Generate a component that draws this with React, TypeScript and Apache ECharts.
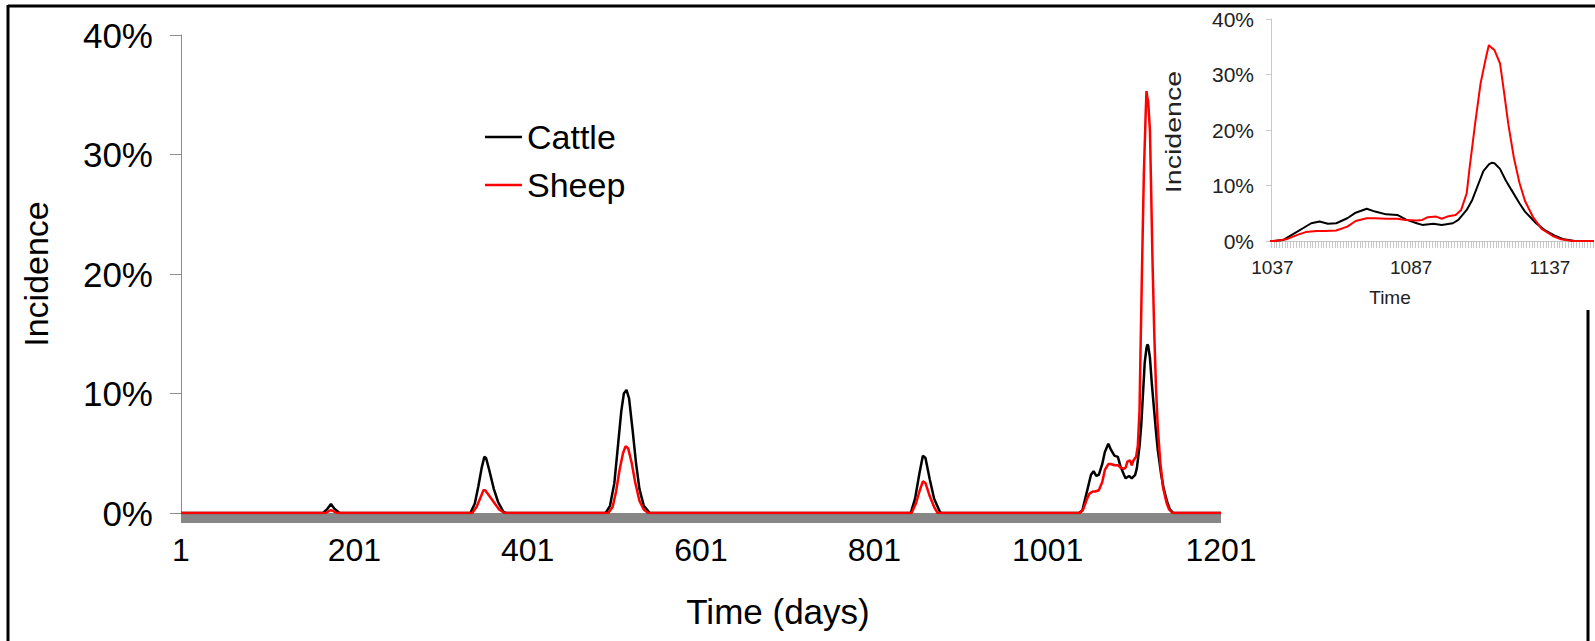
import React, { useEffect, useRef } from "react";
import * as echarts from "echarts";

// Daily incidence (%) of the two host species, as [day, percent] points.
const cattle: [number, number][] = [
  [1, 0], [165, 0], [170, 0.35], [174, 0.75], [178, 0.35], [184, 0],
  [335, 0], [340, 0.8], [344, 2.2], [348, 3.8], [351, 4.7], [353, 4.6], [357, 3.5], [362, 2.0], [367, 0.9], [373, 0.1], [376, 0],
  [491, 0], [496, 0.6], [501, 2.5], [505, 5.5], [509, 8.5], [512, 10.0], [515, 10.3], [518, 9.6], [522, 7.0], [526, 4.2], [530, 2.0], [535, 0.6], [542, 0],
  [843, 0], [848, 1.2], [853, 3.3], [857, 4.8], [860, 4.6], [865, 2.8], [870, 1.2], [876, 0.2], [878, 0],
  [1037, 0], [1041, 0.2], [1044, 1.1], [1048, 2.3], [1051, 3.2], [1054, 3.5], [1057, 3.1], [1060, 3.2], [1064, 4.1], [1067, 5.1],
  [1071, 5.8], [1074, 5.3], [1078, 4.8], [1082, 4.7], [1085, 3.9], [1089, 3.2], [1091, 2.9], [1095, 3.1], [1098, 2.9], [1102, 3.2],
  [1104, 3.8], [1107, 5.6], [1109, 7.4], [1111, 10.0], [1113, 12.6], [1115, 13.8], [1116, 14.1], [1117, 14.0], [1119, 13.0],
  [1121, 11.0], [1123, 9.3], [1126, 6.8], [1128, 5.3], [1132, 3.2], [1135, 2.0], [1139, 0.9], [1142, 0.3], [1146, 0],
  [1201, 0],
];

const sheep: [number, number][] = [
  [1, 0], [168, 0], [174, 0.25], [181, 0],
  [337, 0], [342, 0.5], [346, 1.2], [350, 1.9], [352, 1.9], [356, 1.5], [362, 0.9], [368, 0.3], [374, 0],
  [494, 0], [499, 0.5], [503, 1.8], [507, 3.6], [511, 5.0], [514, 5.6], [517, 5.4], [521, 4.2], [525, 2.6], [530, 1.0], [535, 0.3], [540, 0],
  [844, 0], [849, 0.8], [853, 1.8], [857, 2.65], [860, 2.5], [865, 1.4], [870, 0.5], [874, 0],
  [1038, 0], [1042, 0.3], [1046, 1.1], [1049, 1.6], [1053, 1.8], [1056, 1.8], [1060, 1.9], [1064, 2.6], [1067, 3.6], [1071, 4.1],
  [1074, 4.1], [1078, 4.0], [1082, 4.0], [1085, 3.8], [1089, 3.7], [1091, 3.8], [1093, 4.3], [1096, 4.4], [1098, 4.0], [1100, 4.4],
  [1103, 4.7], [1105, 5.6], [1107, 8.6], [1108, 13.0], [1110, 21.0], [1112, 28.4], [1114, 33.2], [1115, 35.3], [1116, 34.8],
  [1117, 34.4], [1119, 32.0], [1120, 28.5], [1122, 21.0], [1124, 15.0], [1126, 10.5], [1128, 7.2], [1131, 4.2], [1134, 2.2],
  [1138, 0.9], [1141, 0.3], [1145, 0],
  [1201, 0],
];

// Tick labels
const mainDayTicks = [1, 201, 401, 601, 801, 1001, 1201];
const insetDayTicks = [1037, 1087, 1137];
const insetFirstDay = 1037;
const insetLastDay = 1152;

const FONT = "'Liberation Sans', Arial, sans-serif";

// One tick per day along the inset's time axis (category boundaries)
const insetDayBoundaries: number[] = [];
for (let d = insetFirstDay - 0.5; d <= insetLastDay + 0.5; d += 1) insetDayBoundaries.push(d);

const plainNumber = (v: number) => String(v);

function buildOption(): echarts.EChartsOption {
  return {
    animation: false,
    backgroundColor: "#ffffff",
    textStyle: { fontFamily: FONT },
    legend: {
      orient: "vertical",
      left: 480,
      top: 115,
      icon: "rect",
      itemWidth: 37,
      itemHeight: 2.5,
      itemGap: 14,
      data: ["Cattle", "Sheep"],
      textStyle: { fontSize: 34, color: "#000", fontFamily: FONT, lineHeight: 34 },
    },
    grid: [
      { left: 181, top: 35, width: 1040, height: 478 },
      { left: 1271, top: 19, width: 322, height: 222 },
    ],
    xAxis: [
      {
        type: "value",
        gridIndex: 0,
        min: 1,
        max: 1201,
        offset: 5,
        splitLine: { show: false },
        axisLine: { onZero: false, lineStyle: { color: "#878787", width: 10, cap: "butt" } },
        axisTick: { show: false },
        axisLabel: {
          customValues: mainDayTicks,
          formatter: plainNumber,
          fontSize: 32,
          color: "#000",
          margin: 16,
          fontFamily: FONT,
        },
        name: "Time (days)",
        nameLocation: "middle",
        nameGap: 76,
        nameTextStyle: { fontSize: 35, color: "#000", fontFamily: FONT, padding: [0, 0, 0, 154] },
      },
      {
        type: "value",
        gridIndex: 1,
        min: insetFirstDay - 0.5,
        max: insetLastDay + 0.5,
        splitLine: { show: false },
        axisLine: { onZero: false, lineStyle: { color: "#c4c4c4", width: 1 } },
        axisTick: {
          customValues: insetDayBoundaries,
          length: 7,
          lineStyle: { color: "#c8c8c8", width: 1 },
        },
        axisLabel: {
          customValues: insetDayTicks,
          formatter: plainNumber,
          fontSize: 19,
          color: "#222",
          margin: 17,
          fontFamily: FONT,
        },
        name: "Time",
        nameLocation: "middle",
        nameGap: 47,
        nameTextStyle: { fontSize: 19, color: "#222", fontFamily: FONT, padding: [0, 84, 0, 0] },
      },
    ],
    yAxis: [
      {
        type: "value",
        gridIndex: 0,
        min: 0,
        max: 40,
        interval: 10,
        splitLine: { show: false },
        axisLine: { show: true, lineStyle: { color: "#8c8c8c", width: 1 } },
        axisTick: { show: true, length: 11, lineStyle: { color: "#8c8c8c", width: 1 } },
        axisLabel: { formatter: "{value}%", fontSize: 35, color: "#000", margin: 28, fontFamily: FONT },
        name: "Incidence",
        nameLocation: "middle",
        nameRotate: 90,
        nameGap: 128,
        nameTextStyle: { fontSize: 34, color: "#000", fontFamily: FONT },
      },
      {
        type: "value",
        gridIndex: 1,
        min: 0,
        max: 40,
        interval: 10,
        splitLine: { show: false },
        axisLine: { show: true, lineStyle: { color: "#c8c8c8", width: 1 } },
        axisTick: { show: true, length: 5, lineStyle: { color: "#c8c8c8", width: 1 } },
        axisLabel: { formatter: "{value}%", fontSize: 21, color: "#222", margin: 17, fontFamily: FONT },
      },
    ],
    graphic: [
      // outer frame
      { type: "line", shape: { x1: 8, y1: 6, x2: 1595, y2: 6 }, style: { stroke: "#000", lineWidth: 3 } },
      { type: "line", shape: { x1: 8, y1: 5, x2: 8, y2: 641 }, style: { stroke: "#000", lineWidth: 3 } },
      { type: "line", shape: { x1: 1588, y1: 310, x2: 1588, y2: 641 }, style: { stroke: "#000", lineWidth: 3 } },
      // inset vertical axis title
      {
        type: "text",
        x: 1173,
        y: 132,
        rotation: Math.PI / 2,
        scaleX: 1.3,
        style: {
          text: "Incidence",
          fontSize: 22,
          fontFamily: FONT,
          fill: "#222",
          align: "center",
          verticalAlign: "middle",
        },
      },
    ],
    series: [
      {
        type: "line",
        name: "Cattle",
        xAxisIndex: 0,
        yAxisIndex: 0,
        data: cattle,
        symbol: "none",
        lineStyle: { color: "#000", width: 2.5 },
        itemStyle: { color: "#000" },
      },
      {
        type: "line",
        name: "Sheep",
        xAxisIndex: 0,
        yAxisIndex: 0,
        data: sheep,
        symbol: "none",
        lineStyle: { color: "#ff0000", width: 2.5 },
        itemStyle: { color: "#ff0000" },
      },
      {
        type: "line",
        name: "Cattle",
        xAxisIndex: 1,
        yAxisIndex: 1,
        data: cattle,
        symbol: "none",
        clip: true,
        lineStyle: { color: "#000", width: 2 },
        itemStyle: { color: "#000" },
      },
      {
        type: "line",
        name: "Sheep",
        xAxisIndex: 1,
        yAxisIndex: 1,
        data: sheep,
        symbol: "none",
        clip: true,
        lineStyle: { color: "#ff0000", width: 2 },
        itemStyle: { color: "#ff0000" },
      },
    ],
  };
}

export default function App() {
  const ref = useRef<HTMLDivElement>(null);
  useEffect(() => {
    if (!ref.current) return;
    const chart = echarts.init(ref.current, null, { renderer: "svg" });
    chart.setOption(buildOption());
    return () => chart.dispose();
  }, []);
  return (
    <div
      ref={ref}
      style={{ position: "fixed", left: 0, top: 0, width: 1595, height: 641, background: "#fff" }}
    />
  );
}
